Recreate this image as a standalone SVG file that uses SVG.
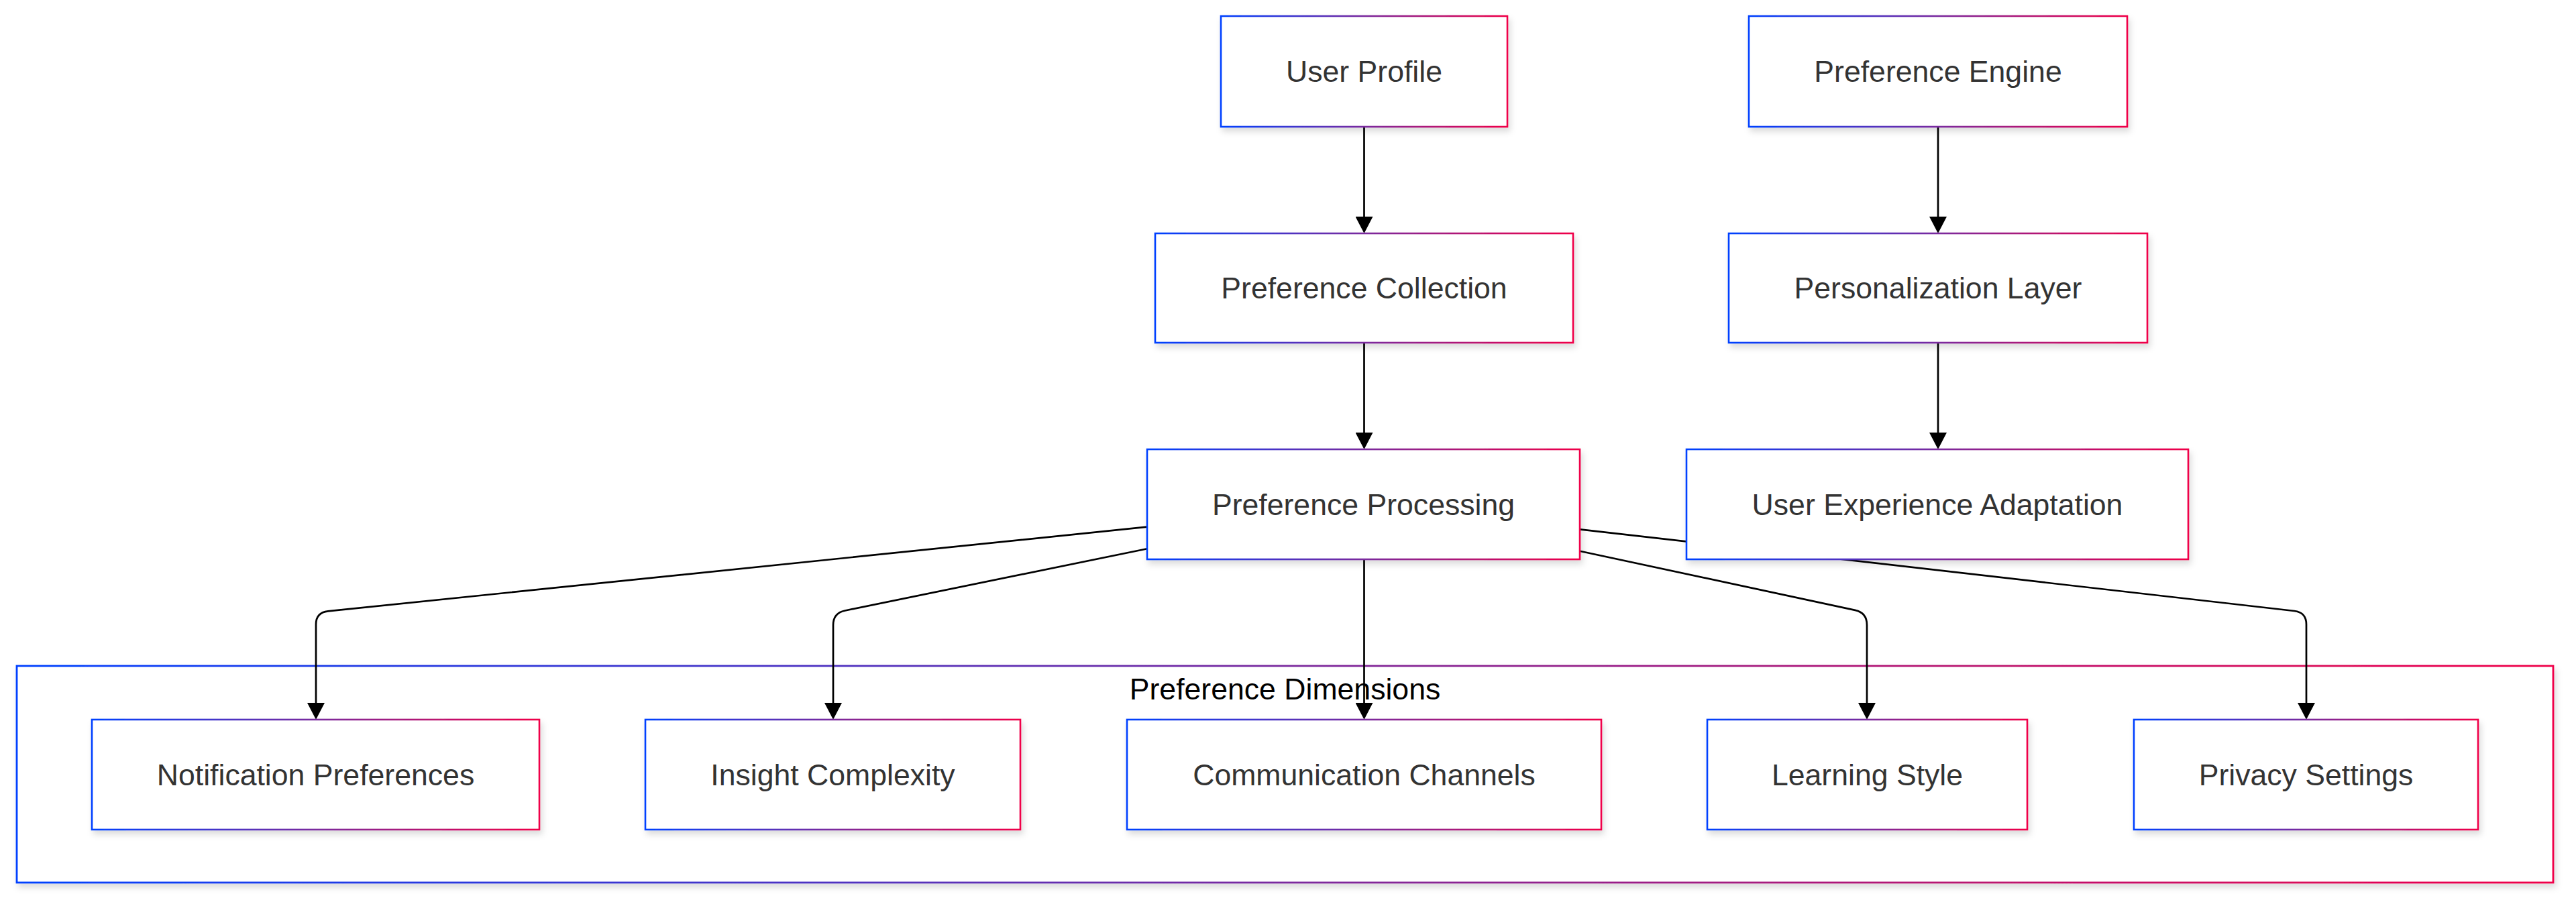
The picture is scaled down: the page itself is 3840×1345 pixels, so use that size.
<svg xmlns="http://www.w3.org/2000/svg" width="3840" height="1345" viewBox="0 0 3840 1345">
  <defs>
    <linearGradient id="grad" x1="0" y1="0" x2="1" y2="0">
      <stop offset="0" stop-color="#0040ff"/>
      <stop offset="0.5" stop-color="#7a2a9e"/>
      <stop offset="1" stop-color="#f00048"/>
    </linearGradient>
    <filter id="shadow" x="-10%" y="-20%" width="130%" height="150%">
      <feDropShadow dx="3" dy="6" stdDeviation="5" flood-color="#000" flood-opacity="0.14"/>
    </filter>
    <marker id="arrow" markerUnits="userSpaceOnUse" viewBox="0 0 25 26" refX="0" refY="13" markerWidth="25" markerHeight="26" orient="auto">
      <path d="M0,0 L25,13 L0,26 Z" fill="#000"/>
    </marker>
    <style>
      .node rect { fill: #ffffff; stroke: url(#grad); stroke-width: 2.6; filter: url(#shadow); }
      .cluster rect { fill: #ffffff; stroke: url(#grad); stroke-width: 2.8; filter: url(#shadow); }
      .label { font-family: "Liberation Sans", Arial, sans-serif; font-size: 44.6px; fill: #333333; text-anchor: middle; }
      .clabel { font-family: "Liberation Sans", Arial, sans-serif; font-size: 44.6px; fill: #000000; text-anchor: middle; }
      .edge { fill: none; stroke: #000; stroke-width: 2.7; marker-end: url(#arrow); }
    </style>
  </defs>
  <rect x="0" y="0" width="3840" height="1345" fill="#ffffff"/>

  <g id="cluster-preference-dimensions" class="cluster">
    <rect x="25" y="993" width="3781" height="323"/>
    <text class="clabel" x="1915.5" y="1043">Preference Dimensions</text>
  </g>

  <g id="connectors">
    <path class="edge" d="M2033.5,189 L2033.5,323"/>
    <path class="edge" d="M2889,189 L2889,323"/>
    <path class="edge" d="M2033.5,511 L2033.5,645"/>
    <path class="edge" d="M2889,511 L2889,645"/>
    <path class="edge" d="M2033.5,834 L2033.5,1048"/>
    <path class="edge" d="M1710,785.7 L489,911.3 Q471,913.2 471,931 L471,1048"/>
    <path class="edge" d="M1710,818.3 L1259.7,910.5 Q1242,914.1 1242,932 L1242,1048"/>
    <path class="edge" d="M2355,821.7 L2765.4,909.9 Q2783,913.7 2783,932 L2783,1048"/>
    <path class="edge" d="M2355,789.3 L3420,911 Q3438,913.1 3438,931 L3438,1048"/>
  </g>

  <g id="node-user-profile" class="node">
    <rect x="1820" y="24" width="427" height="165"/>
    <text class="label" x="2033.5" y="122">User Profile</text>
  </g>
  <g id="node-preference-engine" class="node">
    <rect x="2607" y="24" width="564" height="165"/>
    <text class="label" x="2889" y="122">Preference Engine</text>
  </g>
  <g id="node-preference-collection" class="node">
    <rect x="1722" y="348" width="623" height="163"/>
    <text class="label" x="2033.5" y="445">Preference Collection</text>
  </g>
  <g id="node-personalization-layer" class="node">
    <rect x="2577" y="348" width="624" height="163"/>
    <text class="label" x="2889" y="445">Personalization Layer</text>
  </g>
  <g id="node-preference-processing" class="node">
    <rect x="1710" y="670" width="645" height="164"/>
    <text class="label" x="2032.5" y="767.5">Preference Processing</text>
  </g>
  <g id="node-user-experience-adaptation" class="node">
    <rect x="2514" y="670" width="748" height="164"/>
    <text class="label" x="2888" y="767.5">User Experience Adaptation</text>
  </g>
  <g id="node-notification-preferences" class="node">
    <rect x="137" y="1073" width="667" height="164"/>
    <text class="label" x="470.5" y="1170.5">Notification Preferences</text>
  </g>
  <g id="node-insight-complexity" class="node">
    <rect x="962" y="1073" width="559" height="164"/>
    <text class="label" x="1241.5" y="1170.5">Insight Complexity</text>
  </g>
  <g id="node-communication-channels" class="node">
    <rect x="1680" y="1073" width="707" height="164"/>
    <text class="label" x="2033.5" y="1170.5">Communication Channels</text>
  </g>
  <g id="node-learning-style" class="node">
    <rect x="2545" y="1073" width="477" height="164"/>
    <text class="label" x="2783.5" y="1170.5">Learning Style</text>
  </g>
  <g id="node-privacy-settings" class="node">
    <rect x="3181" y="1073" width="513" height="164"/>
    <text class="label" x="3437.5" y="1170.5">Privacy Settings</text>
  </g>
</svg>
